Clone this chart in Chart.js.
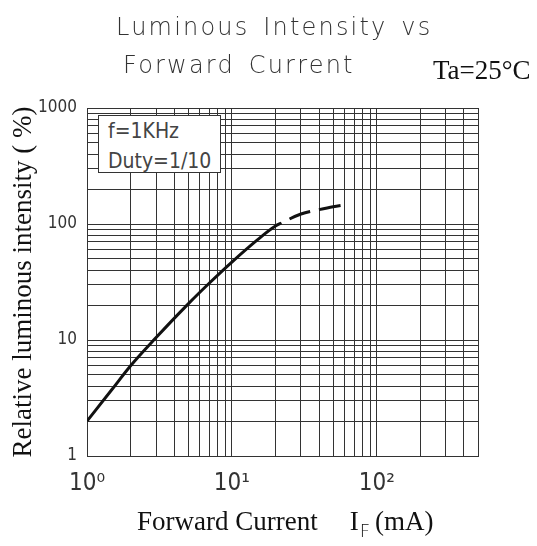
<!DOCTYPE html>
<html>
<head>
<meta charset="utf-8">
<script src="https://cdn.jsdelivr.net/npm/chart.js@4.4.1/dist/chart.umd.min.js"></script>
<style>
  body { margin: 0; background: #fff; }
  #wrap { position: relative; width: 537px; height: 546px; }
  .title {
    position: absolute;
    font-family: "DejaVu Sans", sans-serif;
    font-weight: 200;
    font-size: 24px;
    line-height: 24px;
    letter-spacing: 2.2px;
    word-spacing: 4px;
    color: #333;
    white-space: nowrap;
  }
  #title1 { left: 116px; top: 15px; }
  #title2 { left: 123px; top: 53px; }
  #ta {
    position: absolute; left: 433px; top: 57px;
    font-family: "Liberation Serif", serif; font-size: 27px; line-height: 27px;
    color: #111; white-space: nowrap;
  }
  #note {
    position: absolute; left: 98px; top: 115px; width: 123px; height: 58px;
    border: 1px solid #333; background: #fff;
    font-family: "DejaVu Sans Condensed", "DejaVu Sans", sans-serif;
    font-size: 21px; line-height: 30px; color: #444;
    padding-left: 9px; box-sizing: border-box;
  }
  #xTitle {
    position: absolute; left: 137px; top: 508px;
    font-family: "Liberation Serif", serif; font-size: 27px; line-height: 27px;
    color: #111; white-space: nowrap;
  }
  #xTitle .gap { display: inline-block; width: 32px; }
  #xTitle .sub {
    font-family: "DejaVu Sans", sans-serif; font-weight: 200; font-size: 18px;
    position: relative; top: 7px; margin: 0 5px 0 1px;
  }
</style>
</head>
<body>
<div id="wrap">
  <canvas id="ivChart"></canvas>
  <div class="title" id="title1">Luminous Intensity vs</div>
  <div class="title" id="title2">Forward Current</div>
  <div id="ta">Ta=25°C</div>
  <div id="note"><div>f=1KHz</div><div>Duty=1/10</div></div>
  <div id="xTitle">Forward Current<span class="gap"></span>I<span class="sub">F</span>(mA)</div>
</div>
<script>
// forward current (mA) vs relative luminous intensity (%)
const currentValues = [1, 1.5, 2, 3, 5, 7, 10, 15, 20, 22, 30, 40, 50, 60];
const intensityValues = [2.0, 3.8, 6.0, 10.5, 20.5, 31, 47, 73, 96, 102, 122, 133, 141, 146];
const dashFrom = 22; // curve is dashed past this current

const xGridValues = [1, 2, 3, 4, 5, 6, 7, 8, 9, 10, 20, 30, 40, 50, 60, 70, 80, 90, 100, 200, 300, 400, 500];
const yGridValues = [1, 2, 3, 4, 5, 6, 7, 8, 9, 10, 20, 30, 40, 50, 60, 70, 80, 90,
  100, 200, 300, 400, 500, 600, 700, 800, 900, 1000];
const xLabelValues = [1, 10, 100];
const xLabelTexts = ["10\u2070", "10\u00B9", "10\u00B2"];
const yLabelValues = [1, 10, 100, 1000];
const yLabelTexts = ["1", "10", "100", "1000"];

const gridColor = "#333333";
const tickFont = '"DejaVu Sans Condensed", "DejaVu Sans", sans-serif';

document.addEventListener("DOMContentLoaded", function () {
  const ctx = document.getElementById("ivChart").getContext("2d");

  const points = currentValues.map((x, i) => ({ x: x, y: intensityValues[i] }));

  new Chart(ctx, {
    type: "line",
    data: {
      datasets: [
        {
          data: points,
          borderColor: "#111111",
          borderWidth: 3,
          pointRadius: 0,
          cubicInterpolationMode: "monotone",
          segment: {
            borderDash: (c) => (c.p0.parsed.x >= dashFrom ? [22, 9] : undefined),
            borderDashOffset: (c) => (c.p0.parsed.x >= dashFrom ? 22 : 0),
          },
        },
      ],
    },
    options: {
      responsive: true,
      maintainAspectRatio: false,
      animation: false,
      layout: {
        padding: { top: 108, right: 59, left: 0, bottom: 0 },
      },
      scales: {
        x: {
          type: "logarithmic",
          min: 1,
          max: 500,
          afterBuildTicks: (scale) => {
            scale.ticks = xGridValues.map((v) => ({ value: v }));
          },
          afterFit: (scale) => {
            scale.height = 90;
          },
          ticks: {
            autoSkip: false,
            maxRotation: 0,
            padding: 13,
            color: "#333",
            font: { family: tickFont, size: 24 },
            callback: (value) => {
              const i = xLabelValues.indexOf(value);
              return i >= 0 ? xLabelTexts[i] : "";
            },
          },
          grid: {
            color: gridColor,
            lineWidth: 1,
            drawTicks: false,
          },
          border: { color: gridColor, width: 1 },
        },
        y: {
          type: "logarithmic",
          min: 1,
          max: 1000,
          afterBuildTicks: (scale) => {
            scale.ticks = yGridValues.map((v) => ({ value: v }));
          },
          afterFit: (scale) => {
            scale.width = 87;
          },
          ticks: {
            autoSkip: false,
            padding: 10,
            color: "#333",
            font: { family: tickFont, size: 17 },
            callback: (value) => {
              const i = yLabelValues.indexOf(value);
              return i >= 0 ? yLabelTexts[i] : "";
            },
          },
          grid: {
            color: gridColor,
            lineWidth: 1,
            drawTicks: false,
          },
          border: { color: gridColor, width: 1 },
          title: {
            display: true,
            text: "Relative luminous intensity ( %)",
            color: "#111",
            font: { family: '"Liberation Serif", serif', size: 27 },
            padding: { top: 8, bottom: 0 },
          },
        },
      },
      plugins: {
        legend: { display: false },
        tooltip: { enabled: false },
      },
    },
  });
});
</script>
</body>
</html>
